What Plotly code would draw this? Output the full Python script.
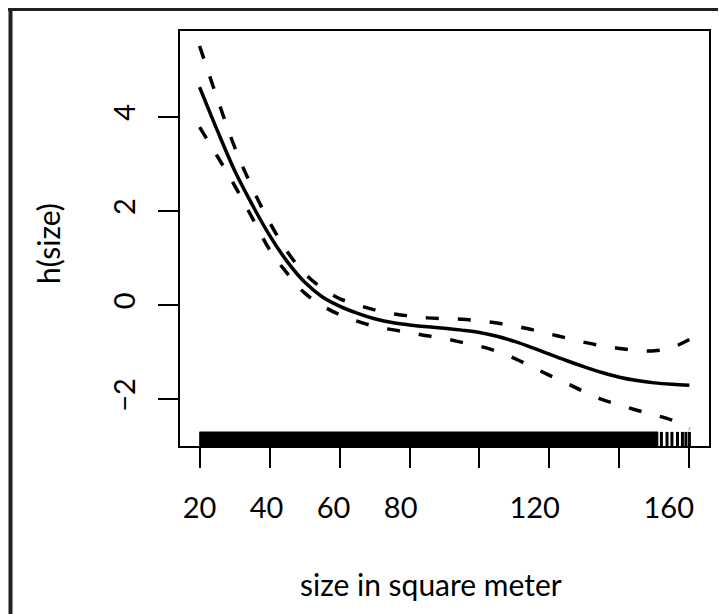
import plotly.graph_objects as go

# ---- data ----
size_grid = [20, 25, 30, 35, 40, 45, 50, 55, 60, 65, 70, 75, 80, 85, 90, 95, 100,
             105, 110, 115, 120, 125, 130, 135, 140, 145, 150, 155, 160]
fit = [4.63, 3.72, 2.86, 2.14, 1.48, 0.93, 0.49, 0.18, -0.02, -0.17, -0.29, -0.37,
       -0.42, -0.46, -0.49, -0.53, -0.58, -0.66, -0.77, -0.90, -1.04, -1.18, -1.31,
       -1.43, -1.53, -1.60, -1.65, -1.68, -1.70]
upper = [5.50, 4.40, 3.36, 2.50, 1.76, 1.14, 0.68, 0.36, 0.14, 0.01, -0.10, -0.18,
         -0.23, -0.27, -0.29, -0.30, -0.33, -0.38, -0.44, -0.52, -0.61, -0.70, -0.79,
         -0.86, -0.92, -0.96, -0.97, -0.90, -0.73]
lower = [3.78, 3.17, 2.54, 1.86, 1.18, 0.68, 0.26, -0.01, -0.20, -0.34, -0.45, -0.52,
         -0.58, -0.65, -0.71, -0.79, -0.87, -0.98, -1.13, -1.31, -1.49, -1.66, -1.84,
         -2.00, -2.12, -2.23, -2.33, -2.44, -2.63]

# rug: dense block of observed sizes plus a few isolated large flats
rug_dense_range = [20, 151]
rug_sparse = [152.0, 153.6, 155.0, 156.6, 158.0, 159.0, 160.0]

x_tickvals = [20, 40, 60, 80, 100, 120, 140, 160]
x_labelvals = [20, 40, 60, 80, 120, 160]
x_labeltext = ["20", "40", "60", "80", "120", "160"]
y_tickvals = [-2, 0, 2, 4]
y_ticktext = ["\u22122", "0", "2", "4"]

x_title = "size in square meter"
y_title = "h(size)"

# ---- figure (page has an 8px body margin, so figure is 8px smaller) ----
OFF = 8
W, H = 726 - OFF, 614 - OFF
ML, MT = 180 - OFF, 31 - OFF
PW, PH = 529, 415
MR, MB = W - ML - PW, H - MT - PH

FONT = "Lato, 'Open Sans', sans-serif"
fs = 29


def px_x(p):  # page pixel -> paper x
    return (p - OFF - ML) / PW


def px_y(p):  # page pixel -> paper y
    return 1 - (p - OFF - MT) / PH


fig = go.Figure()
fig.add_trace(go.Scatter(x=size_grid, y=fit, mode="lines",
                         line=dict(color="black", width=3.5, shape="spline"),
                         showlegend=False, hoverinfo="skip"))
for band in (upper, lower):
    fig.add_trace(go.Scatter(x=size_grid, y=band, mode="lines",
                             line=dict(color="black", width=3.5, shape="spline",
                                       dash="13px,19px"),
                             showlegend=False, hoverinfo="skip"))
# invisible carrier so the label axis is drawn
fig.add_trace(go.Scatter(x=x_labelvals, y=[None] * len(x_labelvals), xaxis="x2",
                         mode="lines", showlegend=False, hoverinfo="skip"))

shapes = []
shapes.append(dict(type="rect", xref="x", yref="y domain",
                   x0=rug_dense_range[0], x1=rug_dense_range[1], y0=0, y1=0.034,
                   fillcolor="black", line=dict(width=0.8, color="black"), layer="above"))
for v in rug_sparse:
    shapes.append(dict(type="line", xref="x", yref="y domain",
                       x0=v, x1=v, y0=0, y1=0.034,
                       line=dict(color="black", width=3)))

frame_col = "#231f20"
shapes.append(dict(type="line", xref="paper", yref="paper",
                   x0=px_x(6.5), x1=px_x(740), y0=px_y(9), y1=px_y(9),
                   line=dict(color=frame_col, width=4)))
shapes.append(dict(type="line", xref="paper", yref="paper",
                   x0=px_x(10.5), x1=px_x(10.5), y0=px_y(7), y1=px_y(630),
                   line=dict(color=frame_col, width=4)))

annotations = [
    dict(text=x_title, xref="paper", yref="paper", x=px_x(431), y=px_y(584),
         xanchor="center", yanchor="middle", showarrow=False,
         font=dict(family=FONT, size=30, color="black")),
    dict(text=y_title, xref="paper", yref="paper", x=px_x(48), y=px_y(244),
         xanchor="center", yanchor="middle", showarrow=False, textangle=-90,
         font=dict(family=FONT, size=30, color="black")),
]

fig.update_layout(
    width=W, height=H, autosize=False,
    margin=dict(l=ML, r=MR, t=MT, b=MB, pad=0),
    paper_bgcolor="white", plot_bgcolor="white",
    font=dict(family=FONT, size=fs, color="black"),
    shapes=shapes, annotations=annotations,
    xaxis=dict(range=[14.4, 165.6], tickmode="array", tickvals=x_tickvals,
               showticklabels=False, ticks="outside", ticklen=20, tickwidth=1.5,
               tickcolor="black", showline=True, mirror=True, linecolor="black",
               linewidth=1.5, showgrid=False, zeroline=False),
    # tick-label row: in the reference the labels sit slightly compressed
    # towards the left relative to the tick marks
    xaxis2=dict(overlaying="x", anchor="y", side="bottom",
                range=[14.18, 172.0], tickmode="array", tickvals=x_labelvals,
                ticktext=x_labeltext, ticks="outside", ticklen=20,
                tickcolor="rgba(0,0,0,0)", showline=False, showgrid=False,
                zeroline=False, ticklabelstandoff=16),
    yaxis=dict(range=[-2.99, 5.82], tickmode="array", tickvals=y_tickvals,
               ticktext=y_ticktext, tickangle=-90, ticks="outside", ticklen=20,
               tickwidth=1.5, tickcolor="black", showline=True, mirror=True,
               linecolor="black", linewidth=1.5, showgrid=False, zeroline=False,
               ticklabelstandoff=12),
)

fig.write_html("out.html")
